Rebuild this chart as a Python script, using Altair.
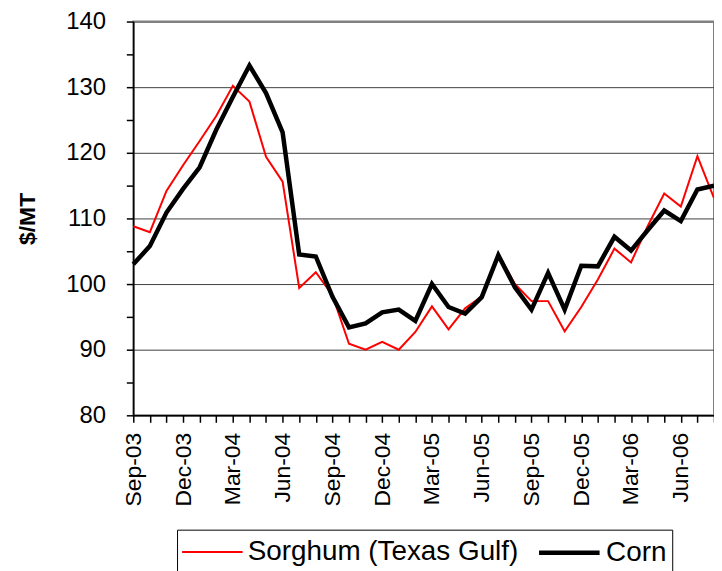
import altair as alt
import pandas as pd

months = [
    "Sep-03", "Oct-03", "Nov-03", "Dec-03",
    "Jan-04", "Feb-04", "Mar-04", "Apr-04", "May-04", "Jun-04",
    "Jul-04", "Aug-04", "Sep-04", "Oct-04", "Nov-04", "Dec-04",
    "Jan-05", "Feb-05", "Mar-05", "Apr-05", "May-05", "Jun-05",
    "Jul-05", "Aug-05", "Sep-05", "Oct-05", "Nov-05", "Dec-05",
    "Jan-06", "Feb-06", "Mar-06", "Apr-06", "May-06", "Jun-06",
    "Jul-06", "Aug-06",
]

sorghum = [
    108.8, 107.9, 114.2, 118.1,
    121.8, 125.6, 130.2, 127.8, 119.4, 115.6,
    99.4, 101.8, 98.3, 90.9, 90.0, 91.2,
    90.0, 92.7, 96.6, 93.1, 96.3, 98.1,
    104.6, 100.0, 97.4, 97.4, 92.8, 96.5,
    100.7, 105.4, 103.3, 108.8, 113.8, 111.8,
    119.5, 113.1,
]

corn = [
    103.0, 105.8, 110.9, 114.5,
    117.8, 123.5, 128.5, 133.3, 129.1, 123.1,
    104.5, 104.2, 98.1, 93.4, 94.0, 95.7,
    96.1, 94.4, 100.0, 96.5, 95.5, 98.0,
    104.4, 99.5, 96.1, 101.7, 96.1, 102.8,
    102.7, 107.2, 105.1, 108.2, 111.2, 109.6,
    114.4, 115.0,
]

series_names = ["Sorghum (Texas Gulf)", "Corn"]
series_colors = ["#ff0000", "#000000"]
series_widths = [2, 4.5]
y_ticks = [80, 85, 90, 95, 100, 105, 110, 115, 120, 125, 130, 135, 140]
label_months = ["Sep", "Dec", "Mar", "Jun"]

df = pd.concat([
    pd.DataFrame({"month": months, "price": sorghum, "series": series_names[0]}),
    pd.DataFrame({"month": months, "price": corn, "series": series_names[1]}),
])

FONT = "Liberation Sans"

x_enc = alt.X(
    "month:O",
    sort=months,
    scale=alt.Scale(type="point", padding=0),
    axis=alt.Axis(
        title=None,
        labelAngle=270,
        labelFontSize=23,
        labelPadding=10,
        tickSize=7,
        labelOverlap=False,
        grid=False,
        labelExpr="indexof(" + str(label_months) + ", slice(datum.value, 0, 3)) >= 0 ? datum.value : ''",
    ),
)

y_enc = alt.Y(
    "price:Q",
    scale=alt.Scale(domain=[80, 140], nice=False, zero=False),
    axis=alt.Axis(
        title="$/MT",
        titleFontSize=23,
        titleFontWeight="bold",
        titlePadding=26,
        values=y_ticks,
        labelFontSize=24,
        labelPadding=21,
        tickSize=7,
        labelExpr="datum.value % 10 == 0 ? datum.label : ''",
        grid=True,
        gridColor={"condition": {"test": "datum.value == 140", "value": "#808080"}, "value": "#404040"},
        gridWidth={"condition": {"test": "datum.value == 140", "value": 2}, "value": 1},
        gridOpacity={"condition": {"test": "datum.value % 10 != 0", "value": 0}, "value": 1},
    ),
)

color_enc = alt.Color(
    "series:N",
    scale=alt.Scale(domain=series_names, range=series_colors),
    legend=alt.Legend(title=None),
)
width_enc = alt.StrokeWidth(
    "series:N",
    scale=alt.Scale(domain=series_names, range=series_widths),
    legend=alt.Legend(title=None),
)

base = alt.Chart(df).mark_line().encode(x=x_enc, y=y_enc, color=color_enc, strokeWidth=width_enc)

layer_s = base.transform_filter(alt.datum.series == series_names[0])
layer_c = base.transform_filter(alt.datum.series == series_names[1])

chart = (
    alt.layer(layer_s, layer_c)
    .properties(
        width=584,
        height=396,
        autosize=alt.AutoSizeParams(type="none"),
        padding={"left": 126, "top": 12, "right": 0, "bottom": 165},
    )
    .configure(font=FONT)
    .configure_view(stroke="#808080", strokeWidth=2)
    .configure_axis(
        labelFont=FONT,
        titleFont=FONT,
        labelColor="#000000",
        titleColor="#000000",
        domainColor="#000000",
        tickColor="#000000",
        domainWidth=1.5,
        tickWidth=1.5,
    )
    .configure_legend(
        orient="none",
        legendX=44,
        legendY=511,
        direction="horizontal",
        strokeColor="#000000",
        padding=5.5,
        labelFont=FONT,
        labelFontSize=28,
        labelColor="#000000",
        labelLimit=400,
        symbolType="M-2.03,0H2.03",
        symbolSize=900,
        symbolOffset=14,
        labelOffset=19.5,
        columnPadding=11.5,
    )
)

chart.save("out.html", embed_options={"renderer": "svg", "actions": False})
